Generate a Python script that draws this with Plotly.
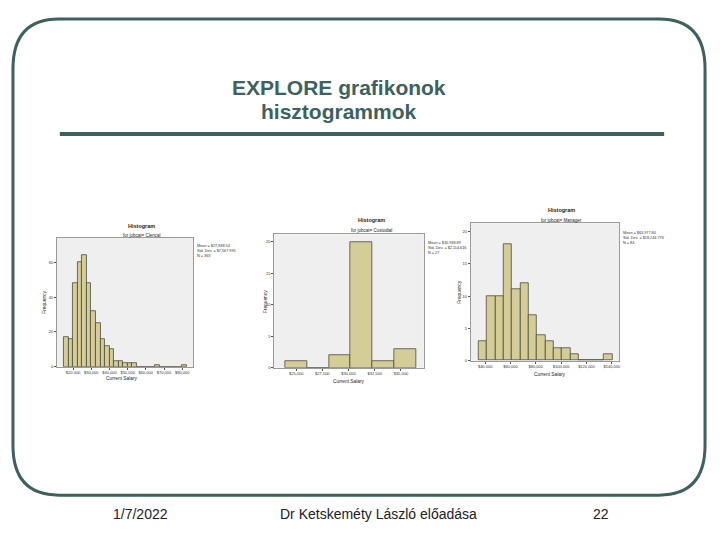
import plotly.graph_objects as go

W, H = 720, 540

# ---------------- data ----------------
clerical_bin_start = 15000
clerical_bin_width = 2500
clerical_counts = [17, 16, 48, 60, 64, 48, 32, 25, 16, 12, 10, 3, 3, 2, 2, 2,
                   0, 0, 0, 0, 1, 0, 0, 0, 0, 0, 1]
clerical_ticks = [20000, 30000, 40000, 50000, 60000, 70000, 80000]
clerical_yticks = [0, 20, 40, 60]

custodial_bin_start = 23950
custodial_bin_width = 2080
custodial_counts = [1, 0, 2, 20, 1, 3]
custodial_ticks = [25000, 27500, 30000, 32500, 35000]
custodial_yticks = [0, 5, 10, 15, 20]

manager_bin_start = 34800
manager_bin_width = 6600
manager_counts = [3, 10, 10, 18, 11, 12, 7, 4, 3, 2, 2, 1, 0, 0, 0, 1]
manager_ticks = [40000, 60000, 80000, 100000, 120000, 140000]
manager_yticks = [0, 5, 10, 15, 20]

subtitles = ["for jobcat= Clerical", "for jobcat= Custodial", "for jobcat= Manager"]
stats = [["Mean = $27,838.54", "Std. Dev. = $7,567.995", "N = 363"],
         ["Mean = $30,938.89", "Std. Dev. = $2,114.616", "N = 27"],
         ["Mean = $63,977.80", "Std. Dev. = $18,244.776", "N = 84"]]

# ---------------- helpers ----------------
def px(x):
    return x / W

def py(y):
    return 1 - y / H

TEAL = "#3d625e"
BAR_FILL = "#d4cd98"
BAR_LINE = "#4d4b3a"

fig = go.Figure()

charts = [
    dict(counts=clerical_counts, start=clerical_bin_start, width=clerical_bin_width,
         ticks=clerical_ticks, yticks=clerical_yticks,
         dom=(57, 194, 239, 368), xr=(11060, 86200), yr=(0, 74),
         title_xy=(142, 227), sub_y=236, stat_xy=(196, 243),
         ylab_xy=(45, 303), xlab_xy=(122, 380)),
    dict(counts=custodial_counts, start=custodial_bin_start, width=custodial_bin_width,
         ticks=custodial_ticks, yticks=custodial_yticks,
         dom=(275, 425, 235, 369), xr=(22905, 37190), yr=(0, 21.2),
         title_xy=(373, 221), sub_y=231, stat_xy=(427, 240),
         ylab_xy=(267, 303), xlab_xy=(350, 383)),
    dict(counts=manager_counts, start=manager_bin_start, width=manager_bin_width,
         ticks=manager_ticks, yticks=manager_yticks,
         dom=(472, 621, 224, 362), xr=(28580, 145900), yr=(0, 21.3),
         title_xy=(563, 211), sub_y=221, stat_xy=(623, 230),
         ylab_xy=(461, 293), xlab_xy=(552, 376)),
]

def note(text, x, y, size, color="#222222", xanchor="center", yanchor="middle", **kw):
    return dict(text=text, x=px(x), y=py(y), xref="paper", yref="paper",
                xanchor=xanchor, yanchor=yanchor, showarrow=False,
                font=dict(size=size, color=color, family="Liberation Sans"), **kw)

annotations = []
for i, c in enumerate(charts, start=1):
    centers = [c["start"] + c["width"] * (k + 0.5) for k in range(len(c["counts"]))]
    fig.add_trace(go.Bar(
        x=centers, y=c["counts"], width=c["width"],
        marker=dict(color=BAR_FILL, line=dict(color=BAR_LINE, width=0.8)),
        xaxis=f"x{i}", yaxis=f"y{i}", showlegend=False, hoverinfo="x+y"))
    x0, x1, y0, y1 = c["dom"]
    common = dict(tickfont=dict(size=4, color="#333333", family="Liberation Sans"),
                  ticks="outside", ticklen=2, tickwidth=0.5, tickcolor="#555555",
                  showline=True, linecolor="#9a9a9a", linewidth=0.8, mirror=True,
                  showgrid=False, zeroline=False, fixedrange=True)
    ax = dict(domain=[px(x0), px(x1)], range=list(c["xr"]), anchor=f"y{i}",
              tickvals=c["ticks"], ticktext=[f"${t:,}" for t in c["ticks"]], **common)
    ay = dict(domain=[py(y1), py(y0)], range=list(c["yr"]), anchor=f"x{i}",
              tickvals=c["yticks"], **common)
    fig.update_layout(**{f"xaxis{i}": ax, f"yaxis{i}": ay})

    tx, ty = c["title_xy"]
    annotations.append(note("<b>Histogram</b>", tx, ty, 5.5))
    annotations.append(note(subtitles[i - 1], tx, c["sub_y"], 4.5))
    sx, sy = c["stat_xy"]
    annotations.append(note("<br>".join(stats[i - 1]), sx, sy, 3.8, color="#333333",
                            xanchor="left", yanchor="top", align="left"))
    lx, ly = c["ylab_xy"]
    annotations.append(note("Frequency", lx, ly, 4.8, textangle=-90))
    xx, xy = c["xlab_xy"]
    annotations.append(note("Current Salary", xx, xy, 4.8))

# slide title
annotations.append(note("<b>EXPLORE grafikonok</b>", 340, 88, 21, color=TEAL))
annotations.append(note("<b>hisztogrammok</b>", 340, 112, 21, color=TEAL))
# footer
for txt, cx in [("1/7/2022", 141), ("Dr Ketskeméty László előadása", 380), ("22", 603)]:
    annotations.append(note(txt, cx, 516, 14))

# rounded slide frame
L, R, T, B, rx, ry = 13, 707, 19, 497, 46, 50
def P(x, y):
    return f"{px(x):.5f},{py(y):.5f}"
frame = (f"M {P(L + rx, T)} L {P(R - rx, T)} Q {P(R, T)} {P(R, T + ry)} "
         f"L {P(R, B - ry)} Q {P(R, B)} {P(R - rx, B)} "
         f"L {P(L + rx, B)} Q {P(L, B)} {P(L, B - ry)} "
         f"L {P(L, T + ry)} Q {P(L, T)} {P(L + rx, T)} Z")
shapes = [
    dict(type="path", path=frame, xref="paper", yref="paper",
         line=dict(color=TEAL, width=3), fillcolor="rgba(0,0,0,0)", layer="below"),
    dict(type="line", x0=px(60), x1=px(666), y0=py(134.5), y1=py(134.5), xref="paper", yref="paper",
         line=dict(color=TEAL, width=4)),
]
# gray plot backgrounds
for c in charts:
    x0, x1, y0, y1 = c["dom"]
    shapes.append(dict(type="rect", x0=px(x0), x1=px(x1), y0=py(y1), y1=py(y0),
                       xref="paper", yref="paper", fillcolor="#efefef",
                       line=dict(width=0), layer="below"))

fig.update_layout(width=W, height=H, margin=dict(l=0, r=0, t=0, b=0),
                  paper_bgcolor="white", plot_bgcolor="rgba(0,0,0,0)",
                  annotations=annotations, shapes=shapes, bargap=0,
                  font=dict(family="Liberation Sans"))

fig.write_html("out.html", config={"displayModeBar": False},
               post_script="document.body.style.margin='0px';document.body.style.overflow='hidden';")
